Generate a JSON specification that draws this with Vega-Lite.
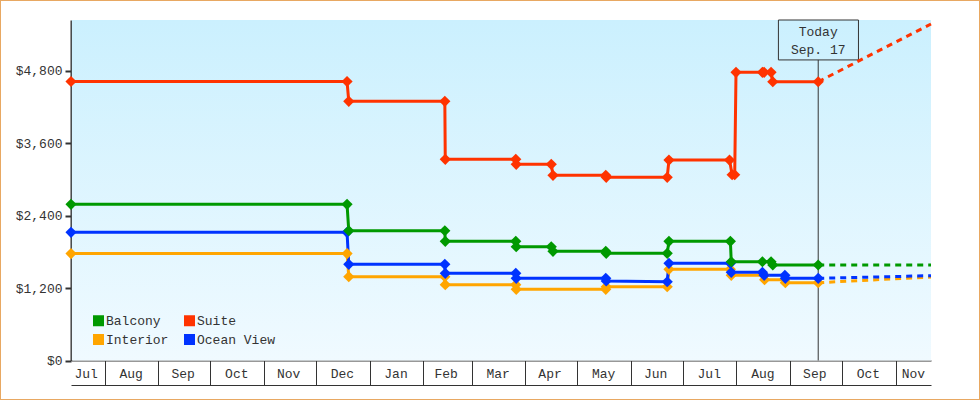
{
"$schema":"https://vega.github.io/schema/vega-lite/v6.json",
"width":980,"height":400,"padding":0,"autosize":{"type":"none"},
"background":"#ffffff",
"config":{"view":{"stroke":"#E8A862","strokeWidth":2,"fill":"#ffffff"},"font":"Liberation Mono"},
"datasets":{
"prices":[
{"cabin":"Interior","date":"2010-07-12T12:00Z","price":1770},{"cabin":"Interior","date":"2010-12-19T00:00Z","price":1770},{"cabin":"Interior","date":"2010-12-20T00:00Z","price":1387},{"cabin":"Interior","date":"2011-02-13T12:00Z","price":1387},{"cabin":"Interior","date":"2011-02-13T18:00Z","price":1255},{"cabin":"Interior","date":"2011-03-26T12:00Z","price":1255},{"cabin":"Interior","date":"2011-03-26T18:00Z","price":1178},{"cabin":"Interior","date":"2011-05-17T12:00Z","price":1178},{"cabin":"Interior","date":"2011-05-17T18:00Z","price":1221},{"cabin":"Interior","date":"2011-06-22T00:00Z","price":1221},{"cabin":"Interior","date":"2011-06-23T00:00Z","price":1509},{"cabin":"Interior","date":"2011-07-28T12:00Z","price":1509},{"cabin":"Interior","date":"2011-07-29T00:00Z","price":1410},{"cabin":"Interior","date":"2011-08-17T00:00Z","price":1410},{"cabin":"Interior","date":"2011-08-17T06:00Z","price":1337},{"cabin":"Interior","date":"2011-08-29T00:00Z","price":1337},{"cabin":"Interior","date":"2011-08-29T06:00Z","price":1288},{"cabin":"Interior","date":"2011-09-17T06:00Z","price":1288},
{"cabin":"Ocean View","date":"2010-07-12T12:00Z","price":2122},{"cabin":"Ocean View","date":"2010-12-19T00:00Z","price":2122},{"cabin":"Ocean View","date":"2010-12-20T00:00Z","price":1592},{"cabin":"Ocean View","date":"2011-02-13T12:00Z","price":1592},{"cabin":"Ocean View","date":"2011-02-13T18:00Z","price":1443},{"cabin":"Ocean View","date":"2011-03-26T12:00Z","price":1443},{"cabin":"Ocean View","date":"2011-03-26T18:00Z","price":1360},{"cabin":"Ocean View","date":"2011-05-17T12:00Z","price":1360},{"cabin":"Ocean View","date":"2011-05-17T18:00Z","price":1316},{"cabin":"Ocean View","date":"2011-06-22T00:00Z","price":1304},{"cabin":"Ocean View","date":"2011-06-23T00:00Z","price":1609},{"cabin":"Ocean View","date":"2011-07-28T12:00Z","price":1609},{"cabin":"Ocean View","date":"2011-07-29T00:00Z","price":1460},{"cabin":"Ocean View","date":"2011-08-16T00:00Z","price":1460},{"cabin":"Ocean View","date":"2011-08-17T00:00Z","price":1410},{"cabin":"Ocean View","date":"2011-08-29T00:00Z","price":1410},{"cabin":"Ocean View","date":"2011-08-29T06:00Z","price":1360},{"cabin":"Ocean View","date":"2011-09-17T06:00Z","price":1360},
{"cabin":"Balcony","date":"2010-07-12T12:00Z","price":2585},{"cabin":"Balcony","date":"2010-12-19T00:00Z","price":2585},{"cabin":"Balcony","date":"2010-12-20T00:00Z","price":2148},{"cabin":"Balcony","date":"2011-02-13T12:00Z","price":2148},{"cabin":"Balcony","date":"2011-02-13T18:00Z","price":1973},{"cabin":"Balcony","date":"2011-03-26T12:00Z","price":1973},{"cabin":"Balcony","date":"2011-03-26T18:00Z","price":1883},{"cabin":"Balcony","date":"2011-04-16T00:00Z","price":1883},{"cabin":"Balcony","date":"2011-04-17T00:00Z","price":1807},{"cabin":"Balcony","date":"2011-05-17T12:00Z","price":1807},{"cabin":"Balcony","date":"2011-05-17T18:00Z","price":1774},{"cabin":"Balcony","date":"2011-06-22T00:00Z","price":1774},{"cabin":"Balcony","date":"2011-06-23T00:00Z","price":1973},{"cabin":"Balcony","date":"2011-07-28T12:00Z","price":1973},{"cabin":"Balcony","date":"2011-07-29T00:00Z","price":1635},{"cabin":"Balcony","date":"2011-08-16T00:00Z","price":1635},{"cabin":"Balcony","date":"2011-08-21T00:00Z","price":1635},{"cabin":"Balcony","date":"2011-08-22T00:00Z","price":1581},{"cabin":"Balcony","date":"2011-09-17T06:00Z","price":1581},
{"cabin":"Suite","date":"2010-07-12T12:00Z","price":4618},{"cabin":"Suite","date":"2010-12-19T00:00Z","price":4618},{"cabin":"Suite","date":"2010-12-20T00:00Z","price":4290},{"cabin":"Suite","date":"2011-02-13T12:00Z","price":4290},{"cabin":"Suite","date":"2011-02-13T18:00Z","price":3330},{"cabin":"Suite","date":"2011-03-26T12:00Z","price":3330},{"cabin":"Suite","date":"2011-03-26T18:00Z","price":3247},{"cabin":"Suite","date":"2011-04-16T00:00Z","price":3247},{"cabin":"Suite","date":"2011-04-17T00:00Z","price":3065},{"cabin":"Suite","date":"2011-05-17T12:00Z","price":3065},{"cabin":"Suite","date":"2011-05-17T18:00Z","price":3032},{"cabin":"Suite","date":"2011-06-22T00:00Z","price":3032},{"cabin":"Suite","date":"2011-06-23T00:00Z","price":3318},{"cabin":"Suite","date":"2011-07-28T00:00Z","price":3318},{"cabin":"Suite","date":"2011-07-29T12:00Z","price":3075},{"cabin":"Suite","date":"2011-07-31T00:00Z","price":3075},{"cabin":"Suite","date":"2011-07-31T18:00Z","price":4770},{"cabin":"Suite","date":"2011-08-16T00:00Z","price":4770},{"cabin":"Suite","date":"2011-08-17T00:00Z","price":4770},{"cabin":"Suite","date":"2011-08-21T00:00Z","price":4770},{"cabin":"Suite","date":"2011-08-22T00:00Z","price":4614},{"cabin":"Suite","date":"2011-09-17T06:00Z","price":4614}
],
"forecast":[
{"cabin":"Interior","date":"2011-09-17T06:00Z","price":1288},{"cabin":"Interior","date":"2011-11-21T10:00Z","price":1382},
{"cabin":"Ocean View","date":"2011-09-17T06:00Z","price":1360},{"cabin":"Ocean View","date":"2011-11-21T10:00Z","price":1404},
{"cabin":"Balcony","date":"2011-09-17T06:00Z","price":1581},{"cabin":"Balcony","date":"2011-11-21T10:00Z","price":1581},
{"cabin":"Suite","date":"2011-09-17T06:00Z","price":4614},{"cabin":"Suite","date":"2011-11-21T10:00Z","price":5570}
]
},
"resolve":{"axis":{"x":"independent"}},
"encoding":{
"y":{"field":"price","type":"quantitative","title":null,
"scale":{"domain":[0,5636],"range":[360.5,20],"nice":false},
"axis":{"orient":"left","offset":-71,"grid":false,"values":[0,1200,2400,3600,4800],"format":"$,.0f","domainColor":"#333333","domainWidth":2,"tickColor":"#333333","tickWidth":2,"tickSize":6,"labelFont":"Liberation Mono","labelFontSize":13,"labelColor":"#333333","labelPadding":3}}
},
"layer":[
{
"data":{"values":[{"start":"2010-07-13T00:00Z","end":"2011-11-21T10:00Z","price":0,"high":5636}]},
"mark":{"type":"rect","fill":{"x1":0,"y1":0,"x2":0,"y2":1,"gradient":"linear","stops":[{"offset":0,"color":"#CBF0FE"},{"offset":1,"color":"#F0FAFF"}]}},
"encoding":{
"x":{"field":"start","type":"temporal","title":null,
"scale":{"type":"utc","domain":[{"year":2010,"month":7,"date":12,"hours":12,"utc":true},{"year":2011,"month":11,"date":21,"hours":10,"utc":true}],"range":[71,931]},
"axis":{"orient":"bottom","offset":-15,"grid":false,"ticks":false,"tickSize":0,"domain":true,"domainColor":"#333333","domainWidth":1,"labelFont":"Liberation Mono","labelFontSize":13,"labelColor":"#333333","labelPadding":-12,"labelBaseline":"middle","labelAlign":"center","labelOverlap":false,"labelFlush":false,"format":"%b",
"values":[{"year":2010,"month":7,"date":21,"utc":true},{"year":2010,"month":8,"date":16,"utc":true},{"year":2010,"month":9,"date":15,"utc":true},{"year":2010,"month":10,"date":16,"utc":true},{"year":2010,"month":11,"date":15,"utc":true},{"year":2010,"month":12,"date":16,"utc":true},{"year":2011,"month":1,"date":16,"utc":true},{"year":2011,"month":2,"date":14,"utc":true},{"year":2011,"month":3,"date":16,"utc":true},{"year":2011,"month":4,"date":15,"utc":true},{"year":2011,"month":5,"date":16,"utc":true},{"year":2011,"month":6,"date":15,"utc":true},{"year":2011,"month":7,"date":16,"utc":true},{"year":2011,"month":8,"date":16,"utc":true},{"year":2011,"month":9,"date":15,"utc":true},{"year":2011,"month":10,"date":16,"utc":true},{"year":2011,"month":11,"date":11,"utc":true}]}},
"x2":{"field":"end"},
"y2":{"field":"high"}
}
},
{
"data":{"values":[{"start":"2010-07-13T00:00Z","price":0}]},
"mark":{"type":"point","opacity":0},
"encoding":{
"x":{"field":"start","type":"temporal","title":null,
"axis":{"orient":"bottom","offset":-39.5,"grid":false,"labels":false,"domain":true,"domainColor":"#333333","domainWidth":1,"tickColor":"#333333","tickWidth":1,"tickSize":25,
"values":[{"year":2010,"month":8,"date":1,"utc":true},{"year":2010,"month":9,"date":1,"utc":true},{"year":2010,"month":10,"date":1,"utc":true},{"year":2010,"month":11,"date":1,"utc":true},{"year":2010,"month":12,"date":1,"utc":true},{"year":2011,"month":1,"date":1,"utc":true},{"year":2011,"month":2,"date":1,"utc":true},{"year":2011,"month":3,"date":1,"utc":true},{"year":2011,"month":4,"date":1,"utc":true},{"year":2011,"month":5,"date":1,"utc":true},{"year":2011,"month":6,"date":1,"utc":true},{"year":2011,"month":7,"date":1,"utc":true},{"year":2011,"month":8,"date":1,"utc":true},{"year":2011,"month":9,"date":1,"utc":true},{"year":2011,"month":10,"date":1,"utc":true},{"year":2011,"month":11,"date":1,"utc":true}]}}
}
},
{
"data":{"values":[{"date":"2011-09-17T06:00Z","price":0,"top":4975}]},
"mark":{"type":"rule","color":"#333333","strokeWidth":1},
"encoding":{"x":{"field":"date","type":"temporal","axis":null},"y2":{"field":"top"}}
},
{
"data":{"values":[{"start":"2011-08-25T06:00Z","end":"2011-10-10T12:00Z","price":4975,"high":5636}]},
"mark":{"type":"rect","fillOpacity":0,"stroke":"#333333","strokeWidth":1},
"encoding":{"x":{"field":"start","type":"temporal","axis":null},"x2":{"field":"end"},"y2":{"field":"high"}}
},
{
"data":{"values":[{"date":"2011-09-17T06:00Z","price":5439,"label":"Today"},{"date":"2011-09-17T06:00Z","price":5141,"label":"Sep. 17"}]},
"mark":{"type":"text","font":"Liberation Mono","fontSize":13,"color":"#333333","align":"center","baseline":"middle"},
"encoding":{"x":{"field":"date","type":"temporal","axis":null},"text":{"field":"label"}}
},
{
"data":{"name":"forecast"},
"mark":{"type":"line","strokeWidth":3,"strokeDash":[6,5],"interpolate":"linear","clip":false},
"encoding":{"x":{"field":"date","type":"temporal","axis":null},
"color":{"field":"cabin","type":"nominal","scale":{"domain":["Balcony","Suite","Interior","Ocean View"],"range":["#009900","#FF3300","#FFA500","#0033FF"]},
"legend":{"title":null,"orient":"none","legendX":92,"legendY":314,"direction":"horizontal","columns":2,"columnPadding":14,"rowPadding":5,"symbolType":"square","symbolSize":121,"symbolOpacity":1,"symbolStrokeWidth":0,"symbolFillColor":"#000000","labelFont":"Liberation Mono","labelFontSize":13,"labelColor":"#333333","labelOffset":1}}}
},
{
"data":{"name":"prices"},
"mark":{"type":"line","strokeWidth":3,"interpolate":"linear"},
"encoding":{"x":{"field":"date","type":"temporal","axis":null},
"color":{"field":"cabin","type":"nominal",
"legend":{"title":null,"orient":"none","legendX":92,"legendY":314,"direction":"horizontal","columns":2,"columnPadding":14,"rowPadding":5,"symbolType":"square","symbolSize":121,"symbolOpacity":1,"symbolStrokeWidth":0,"symbolFillColor":"#000000","labelFont":"Liberation Mono","labelFontSize":13,"labelColor":"#333333","labelOffset":1}}}
},
{
"data":{"name":"prices"},
"mark":{"type":"point","filled":true,"shape":"diamond","size":125,"opacity":1},
"encoding":{"x":{"field":"date","type":"temporal","axis":null},
"color":{"field":"cabin","type":"nominal",
"legend":{"title":null,"orient":"none","legendX":92,"legendY":314,"direction":"horizontal","columns":2,"columnPadding":14,"rowPadding":5,"symbolType":"square","symbolSize":121,"symbolOpacity":1,"symbolStrokeWidth":0,"labelFont":"Liberation Mono","labelFontSize":13,"labelColor":"#333333","labelOffset":1}}}
}
]
}
